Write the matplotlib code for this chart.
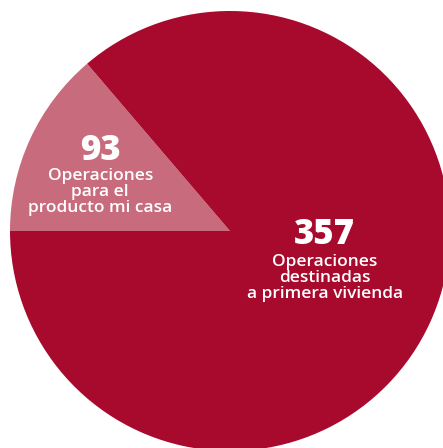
"""Pie chart: operaciones de crédito por destino."""

import matplotlib.pyplot as plt

# Values shown on the chart
counts = [93, 357]
numbers = ["93", "357"]
descriptions = [
    "Operaciones\npara el\nproducto mi casa",
    "Operaciones\ndestinadas\na primera vivienda",
]
# Wedge sweep (degrees) as drawn in the original graphic
drawn_angles = [49.5, 310.5]

COLORS = ["#C86B7D", "#A80A2D"]
FONT = "Open Sans"

fig = plt.figure(figsize=(4.43, 4.48), dpi=100)
ax = fig.add_axes([0, 0, 1, 1])

ax.pie(
    drawn_angles,
    colors=COLORS,
    startangle=180 - drawn_angles[0],
    counterclock=True,
    radius=1.0,
    wedgeprops={"linewidth": 0},
)

ax.set_aspect("equal")
ax.set_xlim(-230 / 220, 213 / 220)
ax.set_ylim(-217 / 220, 231 / 220)
ax.axis("off")

# label positions in data units (radius = 1)
number_pos = [(-0.59, 0.365), (0.43, -0.02)]
text_pos = [(-0.59, 0.285), (0.43, -0.105)]

for num, desc, (nx, ny), (tx, ty) in zip(numbers, descriptions, number_pos, text_pos):
    ax.text(nx, ny, num, color="white", fontsize=25, fontweight="heavy",
            family=FONT, ha="center", va="center")
    ax.text(tx, ty, desc, color="white", fontsize=12.5, fontweight="semibold",
            family=FONT, ha="center", va="top", linespacing=0.98)

fig.savefig("out.png", dpi=100)
